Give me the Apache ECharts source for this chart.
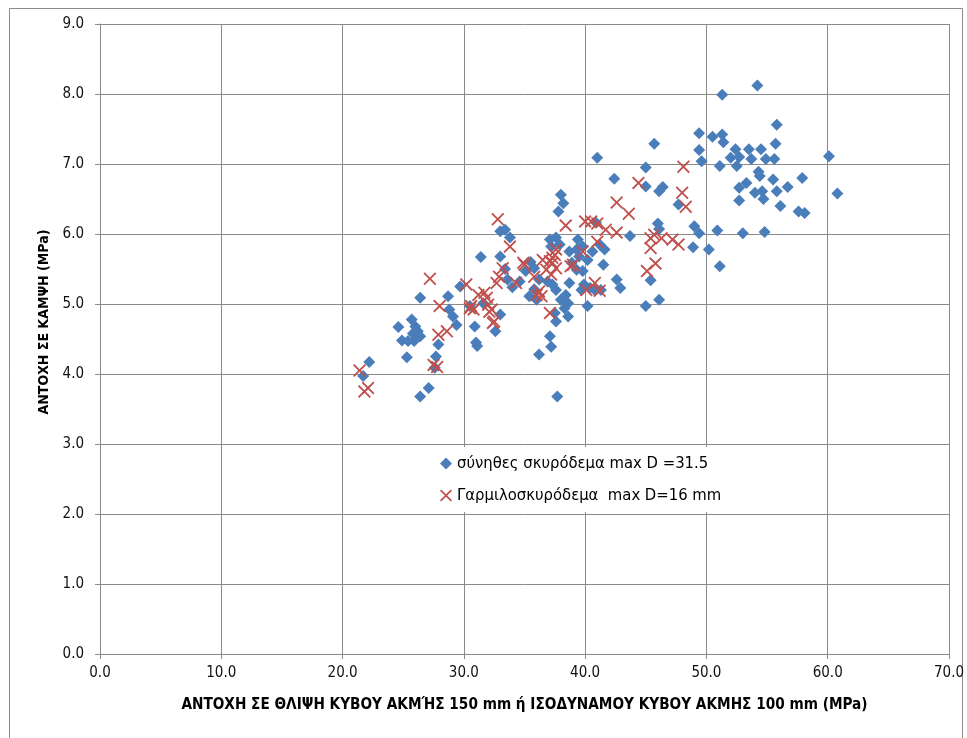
<!DOCTYPE html>
<html>
<head>
<meta charset="utf-8">
<style>
  html, body { margin: 0; padding: 0; background: #fff; }
  #chart { width: 967px; height: 738px; }
</style>
<script src="https://cdn.jsdelivr.net/npm/echarts@6/dist/echarts.min.js"></script>
</head>
<body>
<div id="chart"></div>
<script>
// σύνηθες σκυρόδεμα: [θλίψη MPa, κάμψη MPa]
var normalConcrete = [
  [21.7, 3.97], [22.2, 4.17], [24.6, 4.67], [24.9, 4.48], [25.3, 4.24], [25.7, 4.78],
  [26.0, 4.68], [26.2, 4.61], [25.8, 4.58], [25.4, 4.47], [25.9, 4.47], [26.4, 4.54],
  [26.4, 5.09], [26.4, 3.68], [27.1, 3.80], [27.6, 4.09], [27.7, 4.25], [27.9, 4.42],
  [28.7, 5.11], [28.8, 4.92], [29.1, 4.82], [29.4, 4.70], [29.7, 5.25], [30.5, 4.97],
  [30.9, 4.68], [31.0, 4.45], [31.1, 4.40], [31.4, 5.67], [31.6, 5.01], [32.6, 4.61],
  [33.0, 4.85], [33.0, 6.04], [33.4, 6.06], [33.8, 5.95], [33.0, 5.68], [33.4, 5.50],
  [33.6, 5.35], [34.0, 5.24], [34.6, 5.32], [35.1, 5.47], [35.5, 5.60], [35.8, 5.51],
  [35.8, 5.21], [35.4, 5.11], [36.0, 5.06], [36.2, 5.35], [36.9, 5.32], [36.2, 4.28],
  [37.1, 5.92], [37.6, 5.95], [37.2, 5.82], [37.9, 5.85], [38.0, 6.56], [38.2, 6.44],
  [37.8, 6.32], [37.3, 5.28], [37.6, 5.20], [38.0, 5.06], [38.4, 5.13], [38.6, 5.01],
  [38.3, 4.94], [37.5, 4.87], [37.6, 4.75], [38.6, 4.82], [37.1, 4.54], [37.2, 4.39],
  [37.7, 3.68], [38.7, 5.75], [38.9, 5.59], [39.3, 5.49], [38.7, 5.30], [39.4, 5.92],
  [39.8, 5.82], [39.5, 5.68], [40.2, 5.63], [40.6, 5.75], [39.3, 5.78], [39.8, 5.47],
  [39.7, 5.20], [39.9, 5.28], [40.4, 5.23], [40.8, 5.20], [41.3, 5.20], [40.2, 4.97],
  [40.9, 6.16], [41.2, 5.85], [41.6, 5.78], [41.5, 5.56], [42.6, 5.35], [42.9, 5.23],
  [43.7, 5.97], [41.0, 7.09], [42.4, 6.79], [45.0, 4.97], [46.1, 5.06], [45.4, 5.34],
  [46.0, 6.15], [46.1, 6.07], [45.0, 6.95], [45.0, 6.68], [45.7, 7.29], [46.4, 6.67],
  [46.1, 6.61], [47.7, 6.42], [49.0, 6.11], [49.4, 6.01], [48.9, 5.81], [50.2, 5.78],
  [50.9, 6.05], [51.1, 5.54], [49.4, 7.44], [50.5, 7.39], [51.3, 7.42], [51.4, 7.31],
  [51.3, 7.99], [54.2, 8.12], [55.8, 7.56], [55.7, 7.29], [49.4, 7.20], [52.4, 7.21],
  [53.5, 7.21], [54.5, 7.21], [52.0, 7.09], [52.7, 7.10], [53.7, 7.07], [54.9, 7.07],
  [55.6, 7.07], [60.1, 7.11], [49.6, 7.04], [51.1, 6.97], [52.5, 6.97], [54.3, 6.89],
  [54.4, 6.83], [55.5, 6.78], [57.9, 6.80], [53.3, 6.73], [52.7, 6.66], [56.7, 6.67],
  [54.0, 6.59], [54.6, 6.61], [55.8, 6.61], [60.8, 6.58], [52.7, 6.48], [54.7, 6.50],
  [56.1, 6.40], [57.6, 6.32], [58.1, 6.30], [53.0, 6.01], [54.8, 6.03]
]

// Γαρμιλοσκυρόδεμα
var microConcrete = [
  [21.4, 4.05], [21.8, 3.75], [22.1, 3.80], [27.2, 5.36], [28.0, 4.97], [27.9, 4.56],
  [28.6, 4.61], [27.5, 4.13], [27.8, 4.10], [30.2, 5.28], [30.5, 4.94], [30.8, 4.92],
  [31.2, 5.13], [31.7, 5.16], [32.1, 4.89], [32.4, 4.73], [32.0, 4.99], [32.7, 5.30],
  [32.9, 5.39], [33.2, 5.51], [32.8, 6.21], [33.8, 5.82], [34.9, 5.59], [34.3, 5.30],
  [36.5, 5.63], [36.8, 5.49], [36.2, 5.18], [36.0, 5.13], [37.1, 4.87], [37.5, 5.70],
  [37.6, 5.78], [37.3, 5.59], [38.8, 5.54], [38.4, 6.12], [39.8, 5.75], [40.0, 6.18],
  [40.5, 6.18], [41.0, 6.15], [41.7, 6.06], [42.6, 6.02], [41.0, 5.89], [40.8, 5.30],
  [40.1, 5.20], [41.2, 5.19], [44.4, 6.73], [42.6, 6.45], [43.6, 6.29], [48.1, 6.96],
  [48.0, 6.59], [48.3, 6.39], [45.4, 5.94], [45.7, 5.99], [46.3, 5.94], [47.2, 5.92],
  [47.7, 5.85], [45.4, 5.80], [45.8, 5.58], [45.1, 5.47], [31.9, 5.09], [30.6, 4.97],
  [32.3, 4.92], [32.5, 4.75], [35.0, 5.56], [35.8, 5.39], [36.4, 5.11], [37.3, 5.66],
  [37.6, 5.51], [37.2, 5.42], [39.0, 5.56], [37.1, 5.61]
]

var seriesNames = ['σύνηθες σκυρόδεμα max D =31.5', 'Γαρμιλοσκυρόδεμα  max D=16 mm']

var crossPath = 'path://M0,1 L1,0 L5,4 L9,0 L10,1 L6,5 L10,9 L9,10 L5,6 L1,10 L0,9 L4,5 Z'
var font = "'Liberation Sans Narrow', 'DejaVu Sans Condensed', sans-serif"
var gridColor = '#8a8a8a'

var chart = echarts.init(document.getElementById('chart'), null, { renderer: 'canvas' })
chart.setOption({
  animation: false,
  backgroundColor: '#fff',
  textStyle: { fontFamily: font },
  graphic: [{
    type: 'rect',
    shape: { x: 9.5, y: 8.5, width: 953, height: 740 },
    style: { fill: 'none', stroke: '#8c8c8c', lineWidth: 1 },
    z: -1
  }],
  grid: {
    left: 100,
    right: 17,
    top: 24,
    bottom: 84
  },
  legend: {
    orient: 'vertical',
    left: 432,
    top: 447,
    backgroundColor: '#fff',
    padding: [8, 10, 8, 8],
    itemGap: 15,
    itemWidth: 12,
    itemHeight: 12,
    textStyle: { fontSize: 16.5, color: '#000', fontFamily: font },
    data: [
      { name: seriesNames[0], icon: 'diamond' },
      { name: seriesNames[1], icon: crossPath }
    ]
  },
  xAxis: {
    type: 'value',
    min: 0,
    max: 70,
    interval: 10,
    name: 'ΑΝΤΟΧΗ ΣΕ ΘΛΙΨΗ ΚΥΒΟΥ ΑΚΜΉΣ 150 mm ή ΙΣΟΔΥΝΑΜΟΥ ΚΥΒΟΥ ΑΚΜΗΣ 100 mm (MPa)',
    nameLocation: 'middle',
    nameGap: 44,
    nameTextStyle: { fontSize: 15.2, fontWeight: 'bold', color: '#000', fontFamily: font },
    axisLine: { lineStyle: { color: gridColor, width: 1 } },
    axisTick: { show: true, length: 5, lineStyle: { color: gridColor } },
    axisLabel: {
      fontSize: 15,
      color: '#111',
      margin: 12,
      formatter: function (v) { return v.toFixed(1) }
    },
    splitLine: { show: true, lineStyle: { color: gridColor, width: 1 } }
  },
  yAxis: {
    type: 'value',
    min: 0,
    max: 9,
    interval: 1,
    name: 'ΑΝΤΟΧΗ ΣΕ ΚΑΜΨΗ (MPa)',
    nameLocation: 'middle',
    nameGap: 44,
    nameRotate: 90,
    nameTextStyle: {
      fontSize: 14,
      fontWeight: 'bold',
      color: '#000',
      fontFamily: font,
      padding: [0, 0, 0, 34]
    },
    axisLine: { show: true, lineStyle: { color: gridColor, width: 1 } },
    axisTick: { show: true, length: 5, lineStyle: { color: gridColor } },
    axisLabel: {
      fontSize: 15,
      color: '#111',
      margin: 16,
      formatter: function (v) { return v.toFixed(1) }
    },
    splitLine: { show: true, lineStyle: { color: gridColor, width: 1 } }
  },
  series: [{
    name: seriesNames[0],
    type: 'scatter',
    symbol: 'diamond',
    symbolSize: 12,
    itemStyle: { color: '#4a7ebb', opacity: 1 },
    data: normalConcrete
  },
  {
    name: seriesNames[1],
    type: 'scatter',
    symbol: crossPath,
    symbolSize: 13,
    itemStyle: { color: '#c0504d', opacity: 1 },
    data: microConcrete
  }]
})
</script>
</body>
</html>
